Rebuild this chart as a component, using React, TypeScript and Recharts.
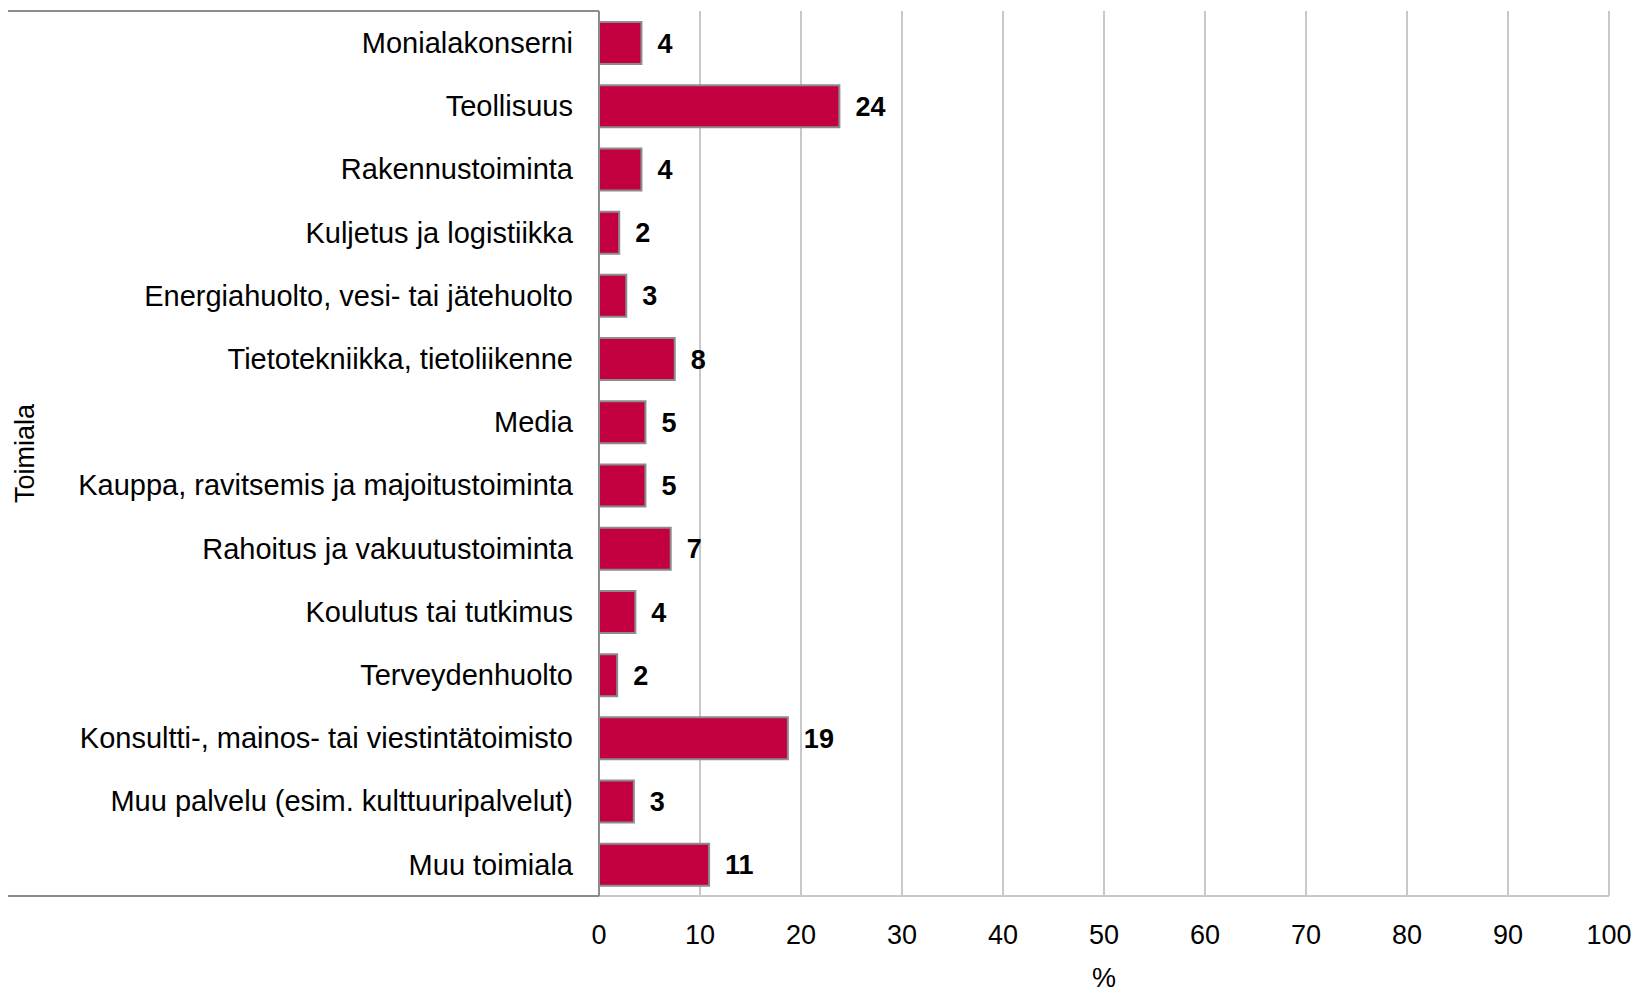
import React from "react";
import { BarChart, Bar, XAxis, YAxis, CartesianGrid, LabelList, Label } from "recharts";

// Toimialat ylhäältä alas
const categories = [
  "Monialakonserni",
  "Teollisuus",
  "Rakennustoiminta",
  "Kuljetus ja logistiikka",
  "Energiahuolto, vesi- tai jätehuolto",
  "Tietotekniikka, tietoliikenne",
  "Media",
  "Kauppa, ravitsemis ja majoitustoiminta",
  "Rahoitus ja vakuutustoiminta",
  "Koulutus tai tutkimus",
  "Terveydenhuolto",
  "Konsultti-, mainos- tai viestintätoimisto",
  "Muu palvelu (esim. kulttuuripalvelut)",
  "Muu toimiala",
];

// osuudet (%) luettu kuvasta
const shares = [4.2, 23.8, 4.2, 2.0, 2.7, 7.5, 4.6, 4.6, 7.1, 3.6, 1.8, 18.7, 3.45, 10.9];
// pylväiden päissä näkyvät luvut
const shownLabels = ["4", "24", "4", "2", "3", "8", "5", "5", "7", "4", "2", "19", "3", "11"];
const xTicks = [0, 10, 20, 30, 40, 50, 60, 70, 80, 90, 100];

const data = categories.map((name, i) => ({ name, value: shares[i], label: shownLabels[i] }));

const FONT = "'Liberation Sans', Arial, sans-serif";
const DARK = "#8c8c8c";
const LIGHT = "#c8c8c8";

export default function App() {
  return (
    <div style={{ position: "absolute", left: 0, top: 0, width: 1639, height: 994, background: "#fff", fontFamily: FONT }}>
      <BarChart
        width={1639}
        height={994}
        data={data}
        layout="vertical"
        margin={{ top: 11, right: 30, bottom: 0, left: 0 }}
        barSize={42}
      >
        <CartesianGrid horizontal={false} stroke={LIGHT} strokeWidth={2} />
        <XAxis
          type="number"
          domain={[0, 100]}
          ticks={xTicks}
          interval={0}
          height={98}
          tickLine={false}
          tickSize={0}
          tickMargin={29}
          axisLine={{ stroke: LIGHT, strokeWidth: 2 }}
          tick={{ fill: "#000", fontSize: 27, fontFamily: FONT }}
        >
          <Label
            content={({ viewBox }: any) => (
              <text x={viewBox.x + viewBox.width / 2} y={987} textAnchor="middle" fontSize={27} fontFamily={FONT} fill="#000">
                %
              </text>
            )}
          />
        </XAxis>
        <XAxis xAxisId="top" type="number" domain={[0, 100]} orientation="top" height={0} tick={false} tickLine={false} axisLine={{ stroke: DARK, strokeWidth: 2 }} />
        <YAxis
          type="category"
          dataKey="name"
          width={599}
          interval={0}
          tickLine={false}
          tickSize={0}
          tickMargin={26}
          axisLine={{ stroke: DARK, strokeWidth: 2 }}
          tick={{ fill: "#000", fontSize: 29, fontFamily: FONT }}
        >
          <Label
            content={({ viewBox }: any) => {
              const cy = viewBox.y + viewBox.height / 2;
              return (
                <text x={34} y={cy} transform={`rotate(-90, 34, ${cy})`} textAnchor="middle" fontSize={27} fontFamily={FONT} fill="#000">
                  Toimiala
                </text>
              );
            }}
          />
        </YAxis>
        <Bar dataKey="value" fill="#c2003f" stroke={DARK} strokeWidth={2} isAnimationActive={false}>
          <LabelList dataKey="label" position="right" offset={16} fill="#000" fontSize={27} fontWeight="bold" fontFamily={FONT} />
        </Bar>
      </BarChart>
      {/* taulukkoviivat nimikealueen ylä- ja alareunassa */}
      <div style={{ position: "absolute", left: 8, top: 10, width: 591, height: 2, background: DARK }} />
      <div style={{ position: "absolute", left: 8, top: 895, width: 591, height: 2, background: DARK }} />
    </div>
  );
}
